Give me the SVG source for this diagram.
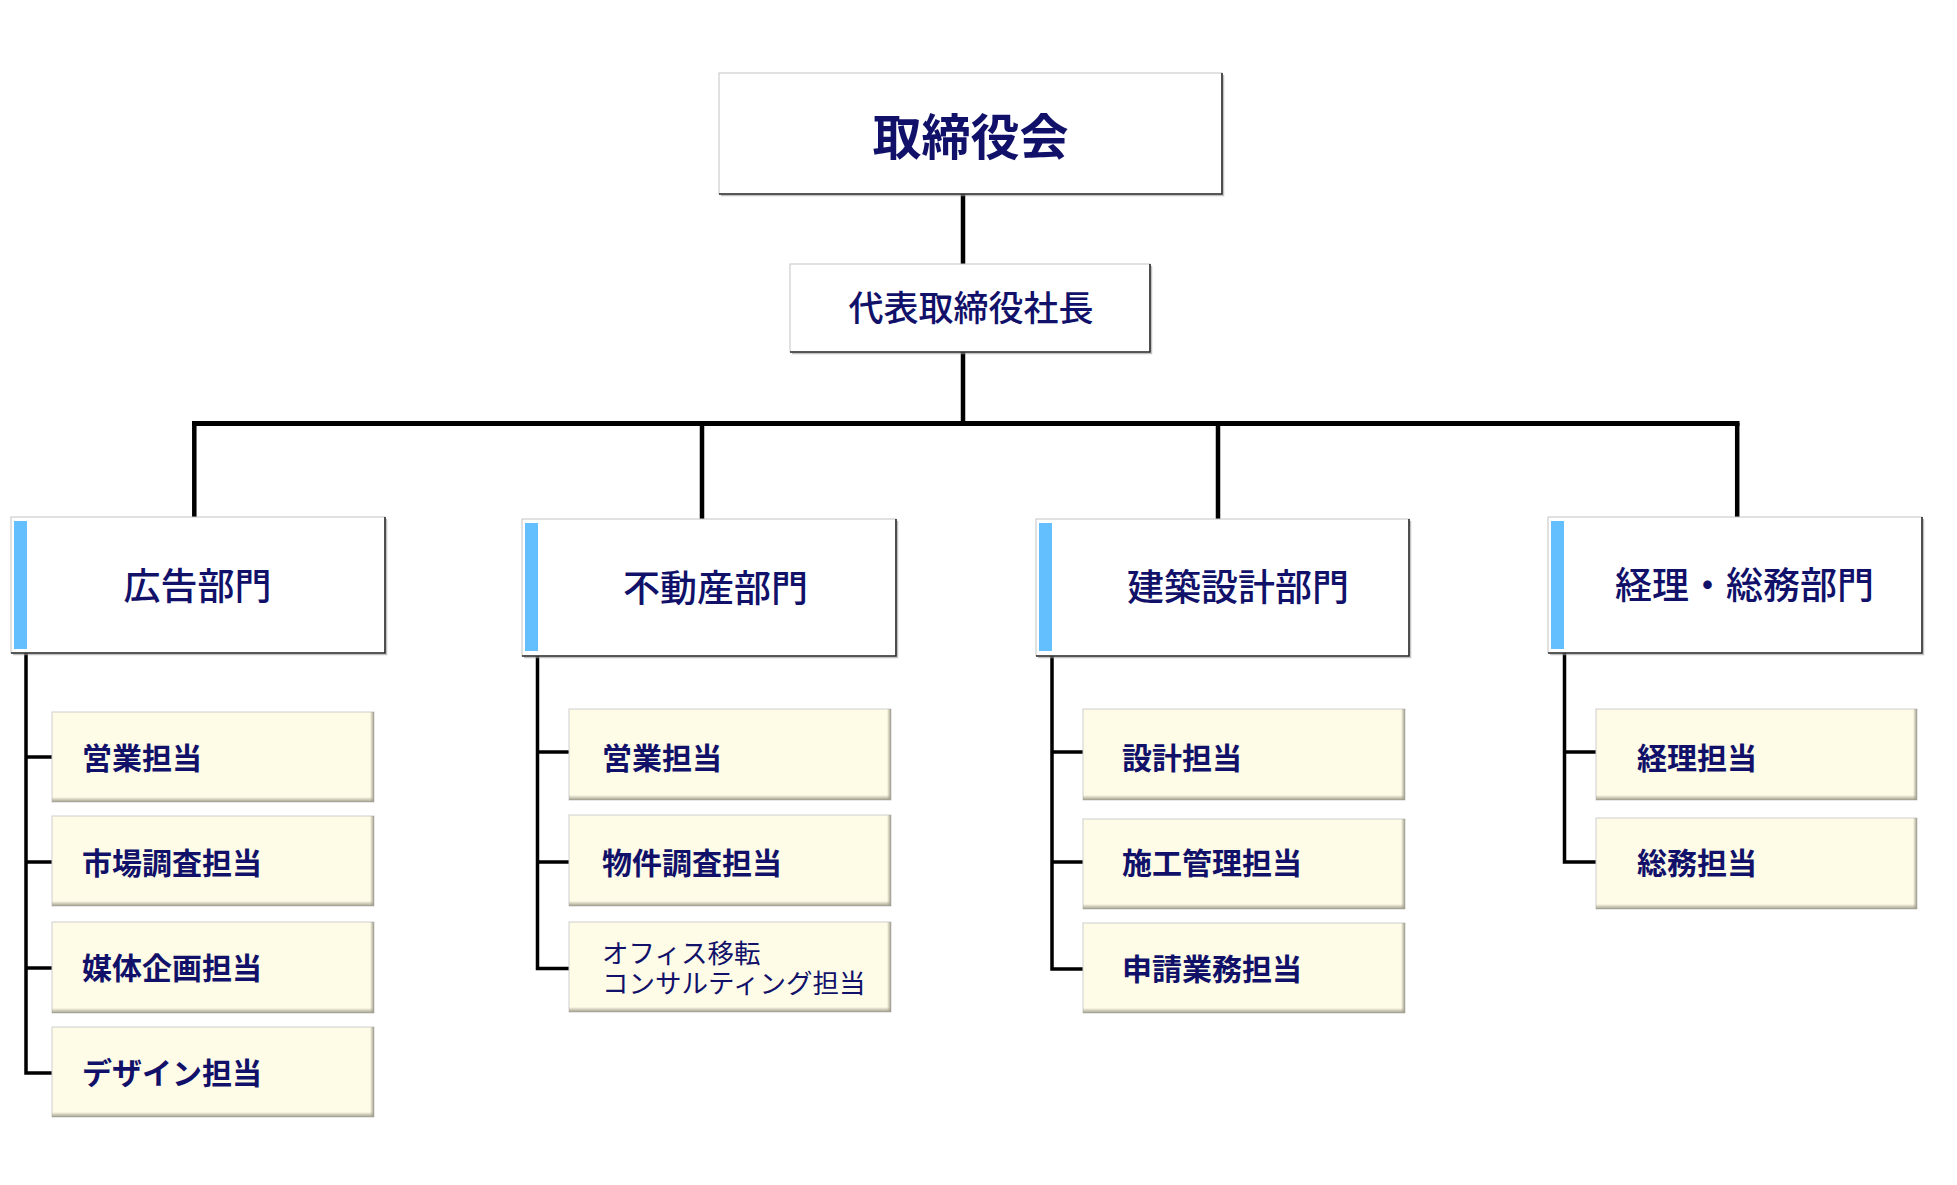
<svg xmlns="http://www.w3.org/2000/svg" width="1957" height="1185" viewBox="0 0 1957 1185">
<style>
text{font-family:"Noto Sans CJK JP","Noto Sans CJK SC",sans-serif;fill:#11116a}
.box{fill:#fff;stroke:#c4c4c4;stroke-width:1}
.edge{fill:none;stroke:#2b2b2b;stroke-width:1.6}
.sh{fill:none;stroke:#9a9a9a;stroke-width:1.5;opacity:.6}
.bar{fill:#63bffe}
.child{fill:#fefbe7;stroke:#cfcfcf;stroke-width:1}
.cb{fill:url(#gb)}
.cr{fill:url(#gr)}
.ln{fill:none;stroke:#000;stroke-linejoin:miter}
.t-top{font-size:49px;font-weight:bold}
.t-pres{font-size:35px;font-weight:500}
.t-dept{font-size:37px;font-weight:500}
.t-child{font-size:30px;font-weight:600}
.t-small{font-size:26.5px;font-weight:normal}
</style>
<defs>
<linearGradient id="gb" x1="0" y1="0" x2="0" y2="1"><stop offset="0" stop-color="#a19e8e" stop-opacity="0"/><stop offset="1" stop-color="#a19e8e"/></linearGradient>
<linearGradient id="gr" x1="0" y1="0" x2="1" y2="0"><stop offset="0" stop-color="#a19e8e" stop-opacity="0"/><stop offset="1" stop-color="#a19e8e"/></linearGradient>
</defs>
<rect width="1957" height="1185" fill="#fff"/>

<g id="connectors">
<path class="ln" stroke-width="4.5" d="M963 194V264M963 352V424"/>
<path class="ln" stroke-width="5" d="M192 423.5H1739.5"/>
<path class="ln" stroke-width="4.5" d="M194.3 423V517M702 423V519M1218 423V519M1737.2 423V517"/>
<path class="ln" stroke-width="3.5" d="M26 653V1073H52M26 757H52M26 862H52M26 968H52"/>
<path class="ln" stroke-width="3.5" d="M537.5 656V968.5H569M537.5 752H569M537.5 862H569"/>
<path class="ln" stroke-width="3.5" d="M1052 656V969H1083M1052 752H1083M1052 862H1083"/>
<path class="ln" stroke-width="3.5" d="M1564.5 653V862H1596M1564.5 752H1596"/>
</g>

<g id="board">
<rect class="box" x="719" y="73" width="503" height="121"/>
<path class="sh" d="M1223.5 75V195.5H721"/>
<path class="edge" d="M1222 73V194H719"/>
<text class="t-top" x="970.5" y="155" text-anchor="middle">取締役会</text>
</g>

<g id="president">
<rect class="box" x="790" y="264" width="360" height="88"/>
<path class="sh" d="M1151.5 266V353.5H792"/>
<path class="edge" d="M1150 264V352H790"/>
<text class="t-pres" x="971" y="321" text-anchor="middle">代表取締役社長</text>
</g>

<g id="dept-ad">
<rect class="box" x="11" y="517" width="374" height="136"/>
<path class="sh" d="M386.5 519V654.5H13"/>
<path class="edge" d="M385 517V653H11"/>
<rect class="bar" x="14" y="521" width="13" height="128"/>
<text class="t-dept" x="197.5" y="600" text-anchor="middle">広告部門</text>
</g>

<g id="dept-re">
<rect class="box" x="522" y="519" width="374" height="137"/>
<path class="sh" d="M897.5 521V657.5H524"/>
<path class="edge" d="M896 519V656H522"/>
<rect class="bar" x="525" y="523" width="13" height="128"/>
<text class="t-dept" x="715.5" y="602" text-anchor="middle">不動産部門</text>
</g>

<g id="dept-arch">
<rect class="box" x="1036" y="519" width="373" height="137"/>
<path class="sh" d="M1410.5 521V657.5H1038"/>
<path class="edge" d="M1409 519V656H1036"/>
<rect class="bar" x="1039" y="523" width="13" height="128"/>
<text class="t-dept" x="1238" y="601" text-anchor="middle">建築設計部門</text>
</g>

<g id="dept-acc">
<rect class="box" x="1548" y="517" width="374" height="136"/>
<path class="sh" d="M1923.5 519V654.5H1550"/>
<path class="edge" d="M1922 517V653H1548"/>
<rect class="bar" x="1551" y="521" width="13" height="128"/>
<text class="t-dept" x="1744.5" y="599" text-anchor="middle">経理・総務部門</text>
</g>

<g id="ad-sales">
<rect class="child" x="52" y="712" width="322" height="90"/>
<rect class="cb" x="52" y="797" width="322" height="5"/><rect class="cr" x="370" y="712" width="4" height="90"/>
<text class="t-child" x="82" y="769">営業担当</text>
</g>
<g id="ad-research">
<rect class="child" x="52" y="816" width="322" height="90"/>
<rect class="cb" x="52" y="901" width="322" height="5"/><rect class="cr" x="370" y="816" width="4" height="90"/>
<text class="t-child" x="82" y="874">市場調査担当</text>
</g>
<g id="ad-media">
<rect class="child" x="52" y="922" width="322" height="91"/>
<rect class="cb" x="52" y="1008" width="322" height="5"/><rect class="cr" x="370" y="922" width="4" height="91"/>
<text class="t-child" x="82" y="979">媒体企画担当</text>
</g>
<g id="ad-design">
<rect class="child" x="52" y="1027" width="322" height="90"/>
<rect class="cb" x="52" y="1112" width="322" height="5"/><rect class="cr" x="370" y="1027" width="4" height="90"/>
<text class="t-child" x="82" y="1084">デザイン担当</text>
</g>

<g id="re-sales">
<rect class="child" x="569" y="709" width="322" height="91"/>
<rect class="cb" x="569" y="795" width="322" height="5"/><rect class="cr" x="887" y="709" width="4" height="91"/>
<text class="t-child" x="602" y="769">営業担当</text>
</g>
<g id="re-property">
<rect class="child" x="569" y="815" width="322" height="91"/>
<rect class="cb" x="569" y="901" width="322" height="5"/><rect class="cr" x="887" y="815" width="4" height="91"/>
<text class="t-child" x="602" y="874">物件調査担当</text>
</g>
<g id="re-office">
<rect class="child" x="569" y="922" width="322" height="90"/>
<rect class="cb" x="569" y="1007" width="322" height="5"/><rect class="cr" x="887" y="922" width="4" height="90"/>
<text class="t-small" x="602" y="963">オフィス移転<tspan x="602" dy="30">コンサルティング担当</tspan></text>
</g>

<g id="arch-design">
<rect class="child" x="1083" y="709" width="322" height="91"/>
<rect class="cb" x="1083" y="795" width="322" height="5"/><rect class="cr" x="1401" y="709" width="4" height="91"/>
<text class="t-child" x="1122" y="769">設計担当</text>
</g>
<g id="arch-construction">
<rect class="child" x="1083" y="819" width="322" height="90"/>
<rect class="cb" x="1083" y="904" width="322" height="5"/><rect class="cr" x="1401" y="819" width="4" height="90"/>
<text class="t-child" x="1122" y="874">施工管理担当</text>
</g>
<g id="arch-permit">
<rect class="child" x="1083" y="923" width="322" height="90"/>
<rect class="cb" x="1083" y="1008" width="322" height="5"/><rect class="cr" x="1401" y="923" width="4" height="90"/>
<text class="t-child" x="1122" y="980">申請業務担当</text>
</g>

<g id="acc-accounting">
<rect class="child" x="1596" y="709" width="321" height="91"/>
<rect class="cb" x="1596" y="795" width="321" height="5"/><rect class="cr" x="1913" y="709" width="4" height="91"/>
<text class="t-child" x="1637" y="769">経理担当</text>
</g>
<g id="acc-general">
<rect class="child" x="1596" y="818" width="321" height="91"/>
<rect class="cb" x="1596" y="904" width="321" height="5"/><rect class="cr" x="1913" y="818" width="4" height="91"/>
<text class="t-child" x="1637" y="874">総務担当</text>
</g>
</svg>
